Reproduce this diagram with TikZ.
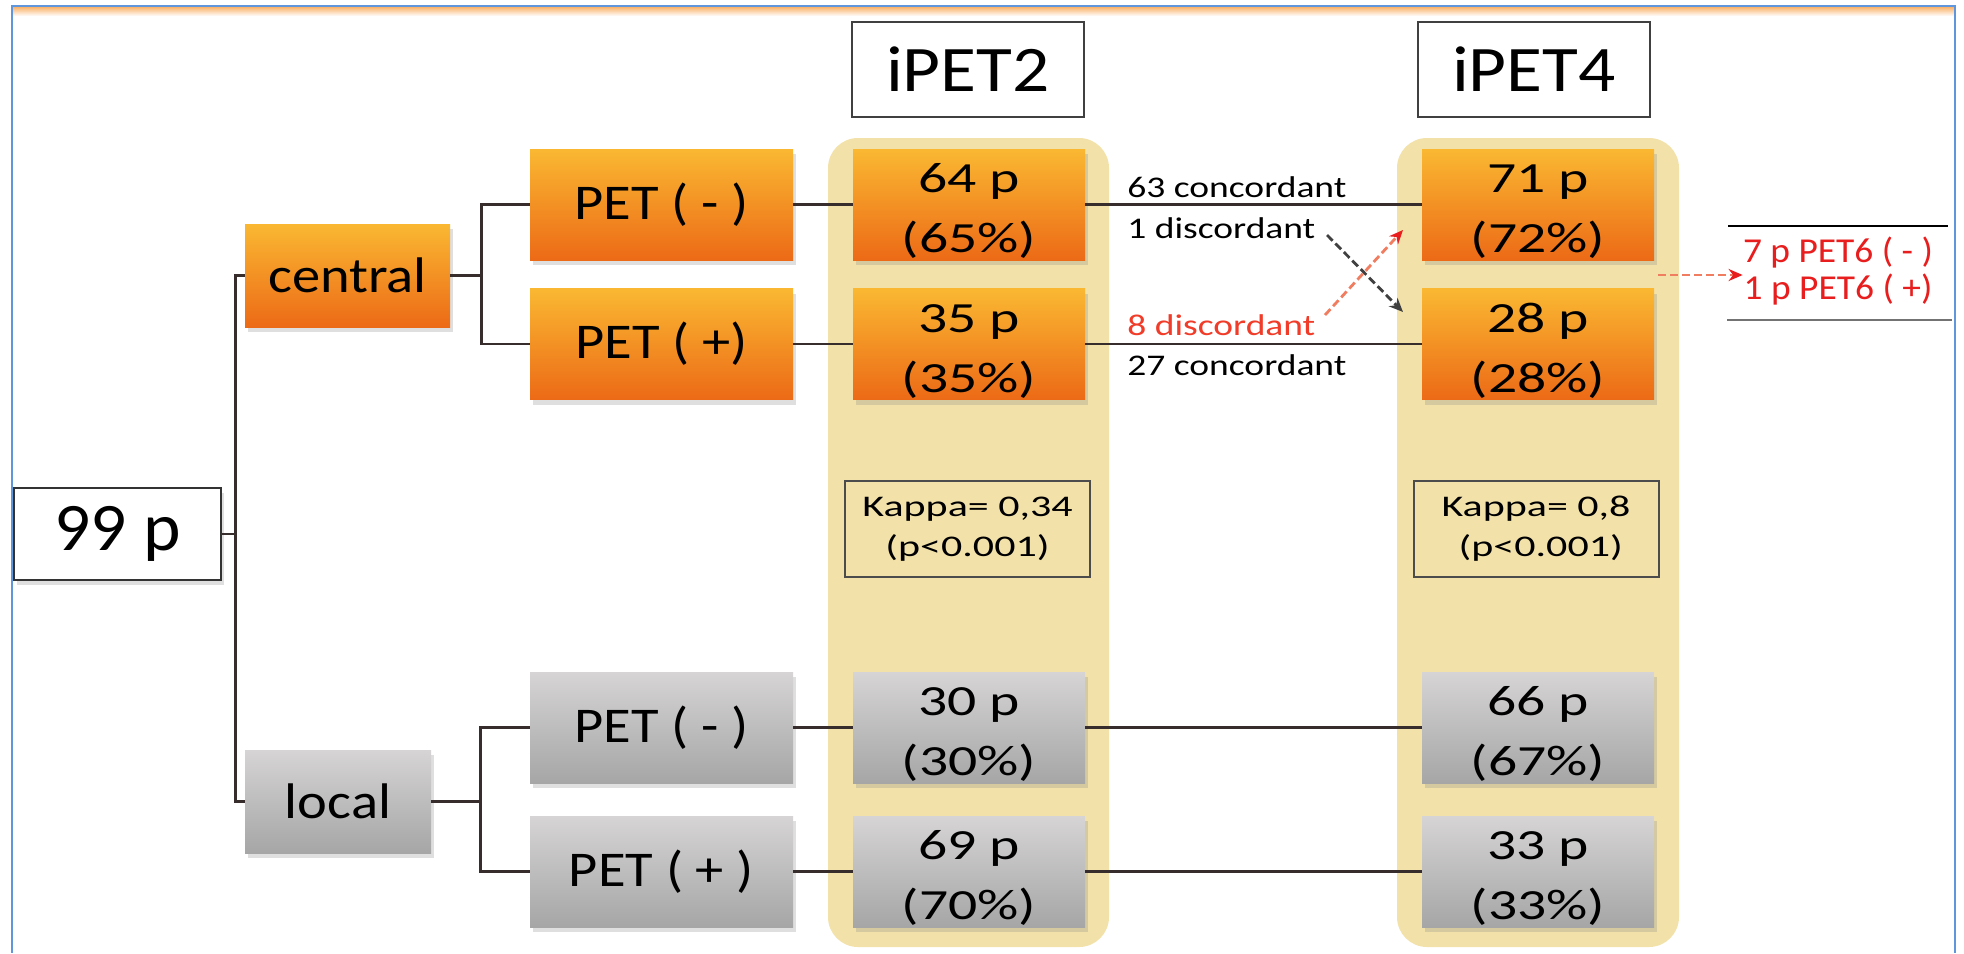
\documentclass[tikz,border=0pt]{standalone}
\usepackage{fontspec}
\setmainfont{Carlito}
\newfontfamily\fA{Carlito}[FakeStretch=1.13]
\newfontfamily\fB{Carlito}[FakeStretch=1.05]
\newfontfamily\fN{Carlito}[FakeStretch=1.34]
\newfontfamily\fC{Carlito}[FakeStretch=1.25]
\newfontfamily\fK{Carlito}[FakeStretch=1.4]
\newfontfamily\fR{Carlito}[FakeStretch=1.07]
\usetikzlibrary{arrows.meta,shadows}
\definecolor{orT}{RGB}{250,184,50}
\definecolor{orB}{RGB}{236,106,22}
\definecolor{grT}{RGB}{214,212,212}
\definecolor{grB}{RGB}{166,166,166}
\definecolor{colY}{RGB}{242,226,170}
\definecolor{lineC}{RGB}{55,45,45}
\definecolor{redT}{RGB}{232,30,30}
\definecolor{redL}{RGB}{240,60,40}
\definecolor{redD}{RGB}{240,125,95}
\definecolor{frBlue}{RGB}{95,150,220}
\definecolor{frOr}{RGB}{250,170,90}
\newcommand{\topstrut}{\rule{0pt}{21pt}}
\tikzset{
  shad/.style={drop shadow={opacity=0.25, shadow xshift=1.5pt, shadow yshift=-2.5pt}},
  obox/.style={rectangle, inner sep=0pt, top color=orT, bottom color=orB, shad, align=center},
  gbox/.style={rectangle, inner sep=0pt, top color=grT, bottom color=grB, shad, align=center},
  petbox/.style={minimum width=131.5pt, minimum height=55.5pt, font=\fA\fontsize{25}{30}\selectfont},
  numbox/.style={minimum width=116pt, minimum height=55.5pt, font=\fN\fontsize{21.5}{30}\selectfont},
  column/.style={rectangle, fill=colY, rounded corners=15pt, minimum width=140.5pt, minimum height=404.5pt, inner sep=0pt},
  header/.style={rectangle, fill=white, draw=black!75, line width=1.2pt, minimum width=116pt, minimum height=47.5pt, inner sep=0pt, font=\fA\fontsize{32.5}{39}\selectfont},
  kappa/.style={rectangle, draw=black!70, line width=1pt, minimum width=122.5pt, minimum height=48pt, inner sep=0pt, align=center, font=\fK\fontsize{15}{20}\selectfont},
  lab/.style={inner sep=0pt, anchor=west, font=\fC\fontsize{15}{18}\selectfont},
  conn/.style={draw=lineC, line width=1.1pt},
  darr/.style={draw=black!75, line width=1.4pt, dash pattern=on 4pt off 2pt, -{Stealth[length=7pt,width=6pt]}},
  rarr/.style={draw=redD, line width=1.4pt, dash pattern=on 4pt off 2pt, -{Stealth[length=7pt,width=6pt,color=redT]}},
}
\begin{document}
\begin{tikzpicture}[x=0.5pt,y=-0.5pt]
\useasboundingbox (0,0) rectangle (1964,953);
\fill[white] (0,0) rectangle (1964,953);
% frame
\shade[top color=frOr, bottom color=white] (12,6) rectangle (1955,16);
\draw[frBlue, line width=1pt] (12,953) -- (12,6) -- (1955,6) -- (1955,953);
% columns
\node[column] (col2) at (968.5,542.5) {};
\node[column, minimum width=141pt] (col4) at (1538,542.5) {};
% headers
\node[header] (h2) at (968,69.5) {iPET2};
\node[header] (h4) at (1534,69.5) {iPET4};
% root
\node[rectangle, fill=white, draw=black!80, line width=1.4pt, shad, minimum width=103.5pt, minimum height=46pt, inner sep=0pt, font=\fB\fontsize{34}{40}\selectfont] (p99) at (117.5,534) {99 p};
% level 1
\node[obox, minimum width=102.5pt, minimum height=51.5pt, font=\fA\fontsize{25}{30}\selectfont] (central) at (347.5,275.5) {central};
\node[gbox, minimum width=93pt, minimum height=51.5pt, font=\fA\fontsize{25}{30}\selectfont] (local) at (338,801.5) {local};
% PET boxes
\node[obox, petbox] (cpn) at (661.5,204.5) {PET ( - )};
\node[obox, petbox] (cpp) at (661.5,344) {PET ( +)};
\node[gbox, petbox] (lpn) at (661.5,727.5) {PET ( - )};
\node[gbox, petbox] (lpp) at (661.5,871.5) {PET ( + )};
% iPET2 numbers
\node[obox, numbox] (n64) at (969,204.5) {\topstrut 64 p\\(65\%)};
\node[obox, numbox] (n35) at (969,344) {\topstrut 35 p\\(35\%)};
\node[gbox, numbox] (n30) at (969,727.5) {\topstrut 30 p\\(30\%)};
\node[gbox, numbox] (n69) at (969,871.5) {\topstrut 69 p\\(70\%)};
% iPET4 numbers
\node[obox, numbox] (n71) at (1538,204.5) {\topstrut 71 p\\(72\%)};
\node[obox, numbox] (n28) at (1538,344) {\topstrut 28 p\\(28\%)};
\node[gbox, numbox] (n66) at (1538,727.5) {\topstrut 66 p\\(67\%)};
\node[gbox, numbox] (n33) at (1538,871.5) {\topstrut 33 p\\(33\%)};
% kappa
\node[kappa] (k2) at (967.5,529) {Kappa= 0,34\\(p<0.001)};
\node[kappa] (k4) at (1536,529) {Kappa= 0,8\\\ (p<0.001)};
% tree connectors
\draw[conn] (p99.east) -- ++(13,0) |- (central.west);
\draw[conn] (p99.east) -- ++(13,0) |- (local.west);
\draw[conn] (central.east) -- ++(31,0) |- (cpn.west);
\draw[conn] (central.east) -- ++(31,0) |- (cpp.west);
\draw[conn] (local.east) -- ++(49,0) |- (lpn.west);
\draw[conn] (local.east) -- ++(49,0) |- (lpp.west);
\draw[conn] (cpn) -- (n64);
\draw[conn] (cpp) -- (n35);
\draw[conn] (lpn) -- (n30);
\draw[conn] (lpp) -- (n69);
\draw[conn] (n64) -- (n71);
\draw[conn] (n35) -- (n28);
\draw[conn] (n30) -- (n66);
\draw[conn] (n69) -- (n33);
% labels
\node[lab] (c63) at (1127,187) {63 concordant};
\node[lab] (d1) at (1127,228) {1 discordant};
\node[lab, text=redL] (d8) at (1127,325) {8 discordant};
\node[lab] (c27) at (1127,365) {27 concordant};
% discordant arrows
\coordinate (a1s) at (1327,235);
\coordinate (a1e) at (1403,312);
\coordinate (a8s) at (1325,315);
\coordinate (a8e) at (1403,230);
\draw[darr] (a1s) -- (a1e);
\draw[rarr] (a8s) -- (a8e);
% PET6 note
\node[inner sep=0pt, align=center, text=redT, font=\fR\fontsize{17.5}{18.5}\selectfont] (pet6) at (1838,271.5) {7 p PET6 ( - )\\1 p PET6 ( +)};
\coordinate (t1) at (1728,226);
\coordinate (t2) at (1948,226);
\coordinate (b1) at (1727,320);
\coordinate (b2) at (1952,320);
\draw[black, line width=1.1pt] (t1) -- (t2);
\draw[black!55, line width=1.1pt] (b1) -- (b2);
\coordinate (r6s) at (1658,275);
\draw[rarr] (r6s) -- (pet6.west |- r6s);
\end{tikzpicture}
\end{document}
